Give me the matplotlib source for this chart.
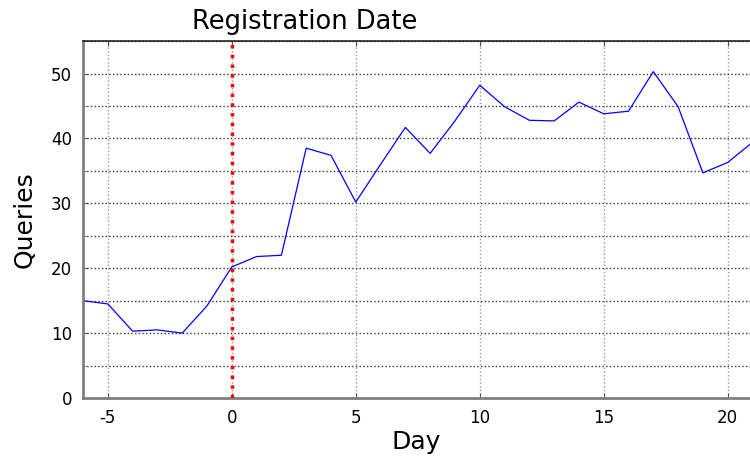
import numpy as np
from matplotlib import pyplot as plt
from matplotlib.ticker import MultipleLocator

# data
days = list(range(-6, 22))
queries = [15.0, 14.5, 10.3, 10.5, 10.0, 14.2, 20.2, 21.8, 22.0, 38.5,
           37.4, 30.2, 36.0, 41.7, 37.7, 42.7, 48.2, 44.9, 42.8, 42.7,
           45.6, 43.8, 44.2, 50.3, 44.9, 34.7, 36.3, 39.4]
reg_day = 0

fig = plt.figure(figsize=(7.5, 4.62), dpi=100)
ax = fig.add_axes([0.1107, 0.1385, 0.8893, 0.7725])

ax.plot(days, queries, color='blue', linewidth=0.9)
ax.axvline(reg_day, color='red', linestyle=(0, (1, 1.8)), linewidth=2.5,
           zorder=3)

ax.set_xlim(-6, 20.9)
ax.set_ylim(0, 55)
ax.xaxis.set_major_locator(MultipleLocator(5))
ax.yaxis.set_major_locator(MultipleLocator(10))
ax.yaxis.set_minor_locator(MultipleLocator(5))

# grid: light vertical, darker horizontal (incl. minor)
ax.grid(True, axis='x', which='major', color='#999999', linestyle=':', linewidth=1)
ax.grid(True, axis='y', which='both', color='#333333', linestyle=':', linewidth=1)

ax.spines['right'].set_visible(False)
ax.spines['top'].set_color('#222222')
ax.spines['top'].set_linewidth(1.2)
for s in ['left', 'bottom']:
    ax.spines[s].set_color('#808080')
    ax.spines[s].set_linewidth(2)

ax.tick_params(axis='both', which='both', direction='in', labelsize=12,
               color='#555555', top=True)
ax.tick_params(axis='x', pad=8)
ax.tick_params(axis='y', pad=8)
ax.set_xticks([-5, 0, 5, 10, 15, 20])
ax.set_xticklabels(['-5', '0', '5', '10', '15', '20'])

# title sits left of centre in the original
ax.set_title('Registration Date', fontsize=18.5, x=0.333, pad=9)
ax.set_xlabel('Day', fontsize=18, labelpad=2)
ax.set_ylabel('Queries', fontsize=18, labelpad=10)

plt.savefig('out.png', dpi=100)
